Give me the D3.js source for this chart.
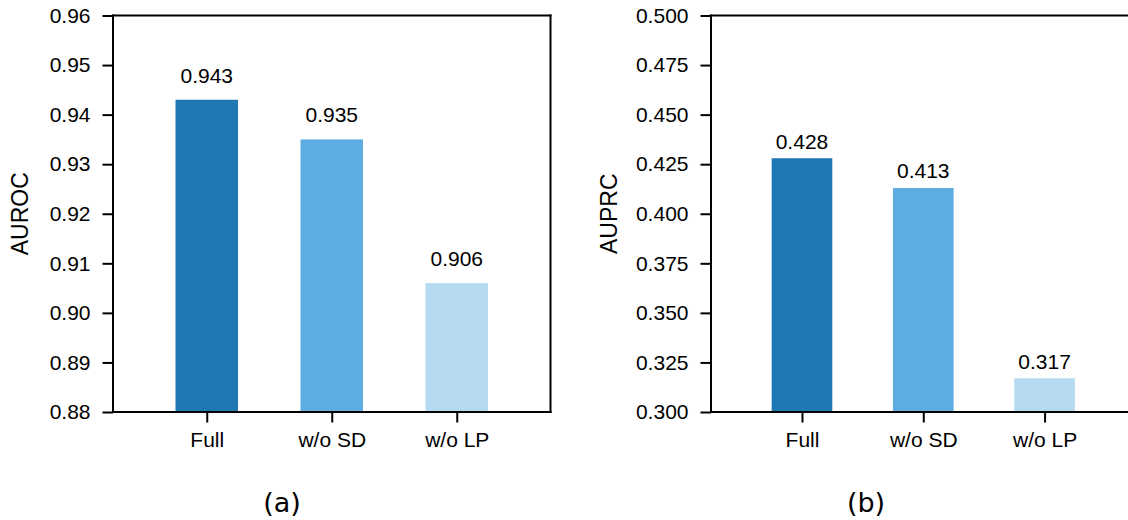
<!DOCTYPE html>
<html>
<head>
<meta charset="utf-8">
<script src="https://cdn.jsdelivr.net/npm/d3@7"></script>
<style>
  html, body { margin: 0; padding: 0; background: #fff; }
  svg { display: block; }
  text { font-family: "Liberation Sans", Arial, Helvetica, sans-serif; fill: #000; }
</style>
</head>
<body>
<svg id="chart" width="1128" height="520"></svg>
<script>
const categories = ["Full", "w/o SD", "w/o LP"];
const barColors = ["#1F77B4", "#5DADE2", "#B6DAF2"];
const aurocValues = [0.943, 0.935, 0.906];
const auprcValues = [0.428, 0.413, 0.317];
const aurocTicks = [0.88, 0.89, 0.90, 0.91, 0.92, 0.93, 0.94, 0.95, 0.96];
const auprcTicks = [0.300, 0.325, 0.350, 0.375, 0.400, 0.425, 0.450, 0.475, 0.500];
const panelLabels = ["(a)", "(b)"];

const svg = d3.select("#chart");

function panel(opts) {
  const { left, step, top, bottom, values, ticks, fmt, title, titleX, valueOffset, caption, captionX, rightSpine } = opts;
  const right = left + step * 3.5;
  const g = svg.append("g");

  const x = d3.scaleLinear().domain([-0.75, 2.75]).range([left, right]);
  const y = d3.scaleLinear().domain([ticks[0], ticks[ticks.length - 1]]).range([bottom, top]);
  const barW = step * 0.5;

  // bars
  g.selectAll("rect.bar").data(values).join("rect")
    .attr("class", "bar")
    .attr("x", (d, i) => x(i) - barW / 2)
    .attr("y", d => y(d))
    .attr("width", barW)
    .attr("height", d => bottom - y(d))
    .attr("fill", (d, i) => barColors[i]);

  // value labels
  g.selectAll("text.val").data(values).join("text")
    .attr("class", "val")
    .attr("x", (d, i) => x(i))
    .attr("y", d => y(d) - valueOffset)
    .attr("text-anchor", "middle")
    .style("font-size", "21px")
    .text(d => d3.format(".3f")(d));

  // y axis
  const yAxis = d3.axisLeft(y).tickValues(ticks).tickFormat(d3.format(fmt)).tickSize(10.5).tickPadding(12);
  const ya = g.append("g").attr("transform", `translate(${left},0)`).call(yAxis);
  ya.select(".domain").remove();
  ya.selectAll(".tick line").attr("stroke", "#000").attr("stroke-width", 2);
  ya.selectAll(".tick text").style("font-size", "21px").style("font-family", "Liberation Sans, Arial, sans-serif").attr("fill", "#000");

  // x axis
  const xAxis = d3.axisBottom(x).tickValues([0, 1, 2]).tickFormat(i => categories[i]).tickSize(10.5).tickPadding(10);
  const xa = g.append("g").attr("transform", `translate(0,${bottom})`).call(xAxis);
  xa.select(".domain").remove();
  xa.selectAll(".tick line").attr("stroke", "#000").attr("stroke-width", 2);
  xa.selectAll(".tick text").style("font-size", "21px").style("font-family", "Liberation Sans, Arial, sans-serif").attr("fill", "#000");

  // spines
  const sp = g.append("g").attr("stroke", "#000").attr("stroke-width", 2).attr("fill", "none");
  sp.append("line").attr("x1", left).attr("x2", left).attr("y1", top - 1).attr("y2", bottom + 1);
  sp.append("line").attr("x1", left - 1).attr("x2", right + 1).attr("y1", top).attr("y2", top);
  sp.append("line").attr("x1", left - 1).attr("x2", right + 1).attr("y1", bottom).attr("y2", bottom);
  if (rightSpine) sp.append("line").attr("x1", right).attr("x2", right).attr("y1", top - 1).attr("y2", bottom + 1);

  // y title
  g.append("text")
    .attr("transform", `translate(${titleX},${(top + bottom) / 2}) rotate(-90)`)
    .attr("text-anchor", "middle")
    .attr("dominant-baseline", "central")
    .style("font-size", "23px")
    .text(title);

  // caption
  g.append("text")
    .attr("x", captionX)
    .attr("y", 512)
    .attr("text-anchor", "middle")
    .style("font-family", "DejaVu Sans, sans-serif")
    .style("font-size", "27px")
    .text(caption);
}

panel({ left: 113, step: 125, top: 15.5, bottom: 412, values: aurocValues, ticks: aurocTicks, fmt: ".2f",
        title: "AUROC", titleX: 20, valueOffset: 17, caption: panelLabels[0], captionX: 282, rightSpine: true });
panel({ left: 711, step: 121.3, top: 15.5, bottom: 412, values: auprcValues, ticks: auprcTicks, fmt: ".3f",
        title: "AUPRC", titleX: 609, valueOffset: 9.5, caption: panelLabels[1], captionX: 866, rightSpine: true });
</script>
</body>
</html>
